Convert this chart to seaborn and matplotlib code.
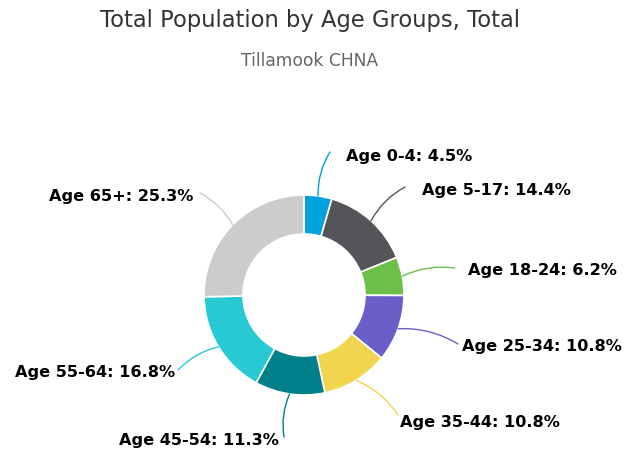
import matplotlib
matplotlib.use("Agg")
import matplotlib.pyplot as plt
import seaborn as sns
import numpy as np

categories = ["Age 0-4", "Age 5-17", "Age 18-24", "Age 25-34", "Age 35-44",
              "Age 45-54", "Age 55-64", "Age 65+"]
values = [4.5, 14.4, 6.2, 10.8, 10.8, 11.3, 16.8, 25.3]
colors = ["#00a1dd", "#545559", "#6cc04a", "#6a5fc8", "#f2d54e",
          "#017f8a", "#27cad3", "#cccccc"]

# label text anchor positions (in pie radius units) and alignment
label_pos = [(0.42, 1.39), (1.18, 1.05), (1.64, 0.24), (1.58, -0.52),
             (0.96, -1.27), (-0.25, -1.45), (-1.29, -0.78), (-1.11, 0.99)]
conn_end = [(0.26, 1.43), (1.01, 1.08), (1.51, 0.27), (1.54, -0.49),
            (0.94, -1.20), (-0.20, -1.42), (-1.26, -0.75), (-1.04, 1.02)]

sns.set_theme(style="white")
plt.rcParams['font.family'] = ['DejaVu Sans']

fig = plt.figure(figsize=(6.36, 4.53), dpi=100)
ax = fig.add_axes([0, 0, 1, 1])
palette = sns.color_palette(colors)

wedges, _ = ax.pie(values, colors=palette, startangle=90, counterclock=False,
                   radius=1.0, wedgeprops=dict(width=0.39, edgecolor="white", linewidth=1.2))

total = sum(values)
cum = 0
for i, (cat, v) in enumerate(zip(categories, values)):
    mid = 90 - (cum + v / 2) / total * 360
    cum += v
    a = np.deg2rad(mid)
    sx, sy = np.cos(a) * 1.0, np.sin(a) * 1.0
    ex, ey = conn_end[i]
    ax.annotate("", xy=(sx, sy), xytext=(ex, ey),
                arrowprops=dict(arrowstyle="-", color=colors[i], lw=1.0,
                                connectionstyle="arc3,rad=0.15" if ex > 0 else "arc3,rad=-0.15",
                                shrinkA=0, shrinkB=0))
    tx, ty = label_pos[i]
    ha = "left" if tx > 0 else "right"
    ax.text(tx, ty, f"{cat}: {v}%", ha=ha, va="center", fontsize=11.6,
            fontweight="bold", color="black")

ax.set_xlim(-3.04, 3.32)
ax.set_ylim(-1.58, 2.95)
ax.set_aspect("auto")
ax.axis("off")

fig.text(310 / 636, 1 - 20 / 453, "Total Population by Age Groups, Total", ha="center",
         va="center", fontsize=16.3, color="#333333")
fig.text(310 / 636, 1 - 61 / 453, "Tillamook CHNA", ha="center", va="center",
         fontsize=12.3, color="#666666")

fig.savefig("out.png", dpi=100, facecolor="white")
